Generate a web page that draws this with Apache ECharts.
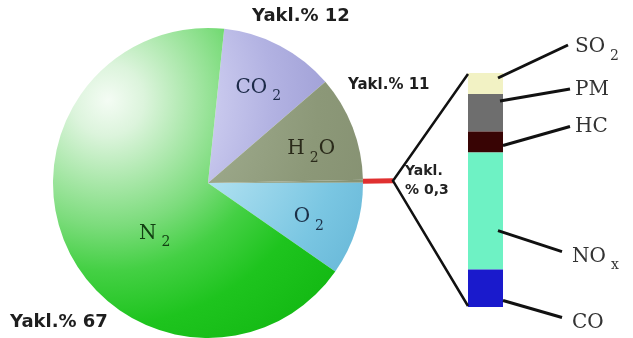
<!DOCTYPE html>
<html><head><meta charset="utf-8">
<script src="https://cdn.jsdelivr.net/npm/echarts@6/dist/echarts.min.js"></script>
<style>html,body{margin:0;padding:0;background:#fff}#c{width:633px;height:338px}</style>
</head><body><div id="c"></div>
<script>
// ---- data ----
const gasNames = ['CO2', 'H2O', 'Diğer', 'O2', 'N2'];
const gasValues = [12, 11, 0.3, 9.7, 67];
const gasLabels = ['{m|CO}{s|2}', '{m|H}{s|2}{m|O}', '', '{m|O}{s|2}', '{m|N}{s|2}'];
const notePrefix = 'Yakl.% ';
const minorNames = ['SO2', 'PM', 'HC', 'NOx', 'CO'];
const minorValues = [9, 16, 9, 50, 16];
const minorLabels = ['{m|SO}{s|2}', '{m|PM}', '{m|HC}', '{m|NO}{s|x}', '{m|CO}'];

// ---- layout / style ----
const CX = 208, CY = 183, R = 155, START = 84, RED_LEN = 30;
const HL = [108, 100];
function grad(stops) {
  return { type: 'radial', x: HL[0], y: HL[1], r: 300, global: true,
    colorStops: stops.map(s => ({ offset: s[0], color: s[1] })) };
}
const h2oFill = grad([[0,'#b8c2a8'],[0.4,'#9ca88a'],[0.7,'#8c9878'],[1,'#848f70']]);
const gasFills = [
  grad([[0,'#f0f0fa'],[0.35,'#cacaee'],[0.55,'#b2b2e2'],[0.8,'#9c9cd4'],[1,'#9090ca']]),
  h2oFill,
  h2oFill,
  grad([[0,'#e0f6fc'],[0.3,'#c4ecf8'],[0.5,'#a6dcee'],[0.8,'#7ac6e2'],[1,'#68b8d8']]),
  grad([[0,'#f4fcf4'],[0.12,'#dcf4dc'],[0.27,'#ace8ac'],[0.42,'#7cdc7c'],[0.57,'#44d044'],[0.75,'#1ec41e'],[1,'#12b812']])
];
const gasTextColors = ['#1c2a48', '#2a2a1a', '#222', '#1c3048', '#124012'];
const gasLabelOffsets = [[13, -24], [28, -5], [0, 0], [24, 10], [20, 17]];
const minorColors = ['#f2f2c4', '#6e6e6e', '#380404', '#6ef2c4', '#1a1acc'];
const minorLabelPos = [[107, -26], [107, -4], [107, -5], [104, 104], [104, 53]];
const leaders = [[30,5,100,-28],[32,7,102,-5],[35,14,102,-5],[30,78,94,99],[35,31,94,48]];
const BAR_LEFT = 468, BAR_W = 35, BAR_TOP = 73, BAR_H = 234;

function fmt(v) { return String(v).replace('.', ','); }

const serifRich = (color) => ({
  m: { fontFamily: 'DejaVu Serif', fontSize: 20, color: color },
  s: { fontFamily: 'DejaVu Serif', fontSize: 14, color: color, padding: [18, 0, 0, 5] }
});

const chart = echarts.init(document.getElementById('c'), null, { renderer: 'canvas' });

const pieData = gasNames.map((n, i) => {
  const item = { name: n, value: gasValues[i], itemStyle: { color: gasFills[i] } };
  if (i === 2) {
    item.label = {
      show: true, position: 'outside', formatter: 'Yakl.\n% ' + fmt(gasValues[i]),
      fontFamily: 'DejaVu Sans', fontWeight: 'bold', fontSize: 14, color: '#222',
      lineHeight: 19, distanceToLabelLine: 12, align: 'left'
    };
    item.labelLine = { show: true, length: RED_LEN, length2: 0, lineStyle: { color: '#e03030', width: 5 } };
  } else {
    item.label = { show: true, position: 'inside', formatter: gasLabels[i],
      offset: gasLabelOffsets[i], rich: serifRich(gasTextColors[i]) };
    item.labelLine = { show: false };
  }
  return item;
});

const barSeries = minorNames.map((n, i) => ({
  type: 'bar', name: n, stack: 'minor', data: [minorValues[i]], barWidth: '100%',
  itemStyle: { color: minorColors[i] }, silent: true,
  label: { show: true, position: minorLabelPos[i], formatter: minorLabels[i],
    align: 'left', verticalAlign: 'middle', rich: serifRich('#333') }
}));

chart.setOption({
  animation: false,
  backgroundColor: '#fff',
  grid: { left: BAR_LEFT, top: BAR_TOP, width: BAR_W, height: BAR_H, outerBoundsMode: 'none' },
  xAxis: { type: 'category', data: ['0,3'], show: false },
  yAxis: { type: 'value', min: 0, max: 100, inverse: true, show: false },
  series: [{
    type: 'pie', center: [CX, CY], radius: R, startAngle: START, clockwise: true,
    avoidLabelOverlap: false, silent: true, data: pieData
  }].concat(barSeries)
});

// ---- decorations computed through the library ----
const total = gasValues.reduce((a, b) => a + b, 0);
const before = gasValues.slice(0, 2).reduce((a, b) => a + b, 0);
const midAng = (START - (before + gasValues[2] / 2) / total * 360) * Math.PI / 180;
const jx = CX + (R + RED_LEN) * Math.cos(midAng);
const jy = CY - (R + RED_LEN) * Math.sin(midAng);
const barCx = chart.convertToPixel({ xAxisIndex: 0 }, 0);
const bl = barCx - BAR_W / 2;
const yTop = chart.convertToPixel({ yAxisIndex: 0 }, 0);
const yBot = chart.convertToPixel({ yAxisIndex: 0 }, minorValues.reduce((a, b) => a + b, 0));
const g = [];
g.push({ type: 'polyline', shape: { points: [[bl, yTop + 1], [jx, jy], [bl, yBot - 1]] },
  style: { stroke: '#111', lineWidth: 2.5, fill: null }, z: 10 });
let cum = 0;
minorValues.forEach((v, i) => {
  const top = chart.convertToPixel({ yAxisIndex: 0 }, cum);
  const L = leaders[i];
  g.push({ type: 'line', shape: { x1: bl + L[0], y1: top + L[1], x2: bl + L[2], y2: top + L[3] },
    style: { stroke: '#111', lineWidth: 3 }, z: 10 });
  cum += v;
});
const noteStyle = (size) => ({ fontFamily: 'DejaVu Sans', fontWeight: 'bold', fontSize: size, fill: '#1e1e1e' });
g.push({ type: 'text', left: 252, top: 7, style: Object.assign({ text: notePrefix + fmt(gasValues[0]) }, noteStyle(18)), z: 10 });
g.push({ type: 'text', left: 348, top: 78, style: Object.assign({ text: notePrefix + fmt(gasValues[1]) }, noteStyle(15)), z: 10 });
g.push({ type: 'text', left: 10, top: 313, style: Object.assign({ text: notePrefix + fmt(gasValues[4]) }, noteStyle(18)), z: 10 });
chart.setOption({ graphic: g });
</script>
</body></html>
